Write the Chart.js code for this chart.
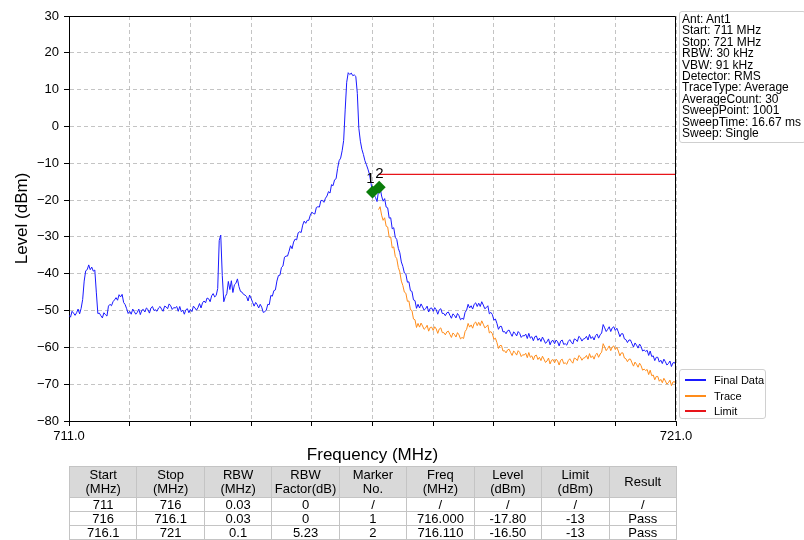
<!DOCTYPE html>
<html>
<head>
<meta charset="utf-8">
<script src="https://cdn.jsdelivr.net/npm/chart.js@4.4.1/dist/chart.umd.min.js"></script>
<style>
  html, body { margin: 0; padding: 0; background: #fff; }
  #wrap { position: relative; width: 804px; height: 540px; overflow: hidden;
          font-family: "Liberation Sans", Arial, sans-serif; color: #000; }
  #plot { position: absolute; left: 0; top: 0; }
  #info { position: absolute; left: 679px; top: 11px; width: 123px; height: 128px;
          border: 1px solid #cfcfcf; border-radius: 3px; padding: 2px 0 0 2px;
          font-size: 12px; line-height: 11.4px; white-space: nowrap; background: #fff; }
  #legend { position: absolute; left: 679px; top: 369px; width: 85px; height: 48px;
            border: 1px solid #d0d0d0; border-radius: 3px; background: #fff; font-size: 11px; }
  #legend .row { position: absolute; left: 0; height: 14px; line-height: 14px; }
  #legend .swatch { position: absolute; left: 5px; top: 6px; width: 21px; height: 2px; }
  #legend .name { position: absolute; left: 34px; top: 0; white-space: nowrap; }
  #result { position: absolute; left: 69px; top: 466px; width: 608px; border-collapse: collapse;
            table-layout: fixed; font-size: 13px; }
  #result th, #result td { border: 1px solid #c4c4c4; text-align: center; padding: 0;
                           font-weight: normal; overflow: hidden; white-space: nowrap; }
  #result th { background: #d9d9d9; height: 30px; line-height: 14px; }
  #result td { height: 13px; line-height: 13px; }
</style>
</head>
<body>
<div id="wrap">
  <canvas id="plot" width="804" height="540"></canvas>
  <div id="info"></div>
  <div id="legend"></div>
  <table id="result"></table>
</div>
<script>
// ---- sweep data (dBm), 0.025 MHz per point from 711 MHz ----
const sweepStartMHz = 711;
const sweepStepMHz = 0.025;
const finalDataDbm = [
  -51.3, -51.8, -50.2, -50.7, -51.3, -50.6, -49.6, -50.9, -49.4, -47.0,
  -42.0, -39.2, -38.9, -37.6, -38.9, -38.2, -39.3, -39.0, -45.0, -50.8,
  -50.7, -51.4, -52.0, -50.6, -51.1, -51.5, -48.8, -48.3, -48.7, -47.6,
  -47.1, -46.5, -47.2, -45.7, -46.3, -45.6, -47.8, -48.4, -49.5, -50.8,
  -50.2, -51.0, -49.6, -50.3, -51.0, -50.5, -49.6, -51.1, -49.9, -49.7,
  -50.4, -49.3, -49.7, -50.7, -49.3, -48.9, -50.0, -49.8, -50.2, -49.3,
  -48.9, -49.6, -50.2, -48.8, -49.0, -49.5, -48.2, -48.7, -49.7, -49.2,
  -49.3, -48.9, -50.2, -48.9, -50.3, -49.9, -51.0, -49.8, -49.5, -50.6,
  -49.7, -50.3, -48.8, -49.3, -49.9, -49.2, -48.1, -49.3, -47.9, -47.4,
  -47.9, -46.6, -46.8, -47.6, -46.0, -45.4, -46.3, -45.9, -44.0, -31.0,
  -29.5, -40.5, -47.6, -46.2, -45.4, -42.1, -44.3, -41.9, -45.1, -43.0,
  -42.6, -41.4, -43.5, -44.8, -45.0, -45.6, -45.8, -46.2, -47.4, -45.8,
  -46.7, -47.8, -48.8, -47.8, -48.4, -49.3, -48.3, -49.1, -50.5, -50.3,
  -49.9, -48.3, -48.4, -45.9, -46.1, -44.6, -44.4, -42.0, -40.5, -40.4,
  -38.3, -37.9, -35.5, -35.2, -35.2, -33.9, -32.4, -33.2, -31.4, -30.6,
  -30.8, -28.9, -28.6, -28.8, -26.8, -25.7, -26.3, -25.5, -25.5, -24.1,
  -23.3, -23.6, -23.8, -22.0, -21.8, -21.9, -20.1, -20.1, -20.6, -19.5,
  -18.9, -17.7, -18.1, -15.8, -16.1, -14.5, -14.2, -11.4, -9.3, -8.6,
  -6.6, -3.8, 4.5, 12.0, 14.6, 14.1, 14.5, 13.8, 14.0, 13.6,
  9.0, -0.5, -4.0, -6.2, -7.6, -9.3, -10.4, -11.6, -13.0, -15.4,
  -17.8, -18.6, -19.3, -20.4, -17.4, -16.6, -18.9, -20.3, -19.6, -21.9,
  -22.1, -24.9, -24.8, -27.8, -27.5, -30.1, -30.7, -33.1, -34.3, -36.8,
  -38.0, -39.8, -40.1, -42.3, -42.2, -44.6, -44.8, -47.1, -47.3, -49.4,
  -48.3, -49.3, -48.2, -49.0, -49.9, -49.5, -48.8, -50.4, -49.4, -49.3,
  -50.2, -49.2, -49.8, -51.0, -49.8, -49.5, -50.8, -50.8, -51.4, -50.6,
  -50.4, -51.3, -52.1, -50.9, -51.3, -52.0, -50.8, -51.4, -52.5, -52.1,
  -52.4, -50.5, -49.9, -48.3, -49.3, -48.7, -49.6, -48.3, -47.9, -48.9,
  -48.0, -48.9, -47.6, -48.5, -49.5, -49.2, -48.7, -50.9, -50.5, -51.1,
  -52.6, -52.3, -53.5, -55.1, -54.3, -54.3, -55.8, -55.7, -56.3, -55.5,
  -55.3, -56.2, -57.0, -55.8, -56.2, -56.9, -55.7, -56.2, -57.3, -56.8,
  -56.9, -56.4, -57.6, -56.2, -57.5, -57.1, -58.2, -57.1, -56.9, -58.1,
  -57.5, -58.4, -57.2, -58.0, -58.9, -58.5, -57.7, -59.3, -58.3, -58.1,
  -59.0, -58.0, -58.5, -59.6, -58.3, -58.0, -59.2, -59.0, -59.4, -58.4,
  -57.9, -58.6, -59.1, -57.7, -57.9, -58.4, -57.0, -57.4, -58.3, -57.7,
  -57.6, -57.0, -58.0, -56.5, -57.6, -57.1, -58.0, -56.8, -56.4, -57.5,
  -56.6, -56.1, -53.8, -54.7, -55.7, -55.1, -54.4, -55.7, -54.7, -54.4,
  -55.4, -54.8, -55.8, -57.1, -56.3, -56.3, -57.7, -57.9, -58.7, -58.0,
  -58.0, -59.0, -59.9, -58.8, -59.4, -60.2, -59.1, -59.8, -61.0, -60.7,
  -61.1, -60.8, -62.2, -61.0, -62.5, -62.3, -63.6, -62.7, -62.7, -64.0,
  -63.5, -64.4, -63.2, -63.9, -64.8, -64.4, -63.7, -65.2, -64.2, -64.1,
  -64.8
];

// raw trace (before RBW factor) for the 716.1 - 721 MHz segment
const traceStartMHz = 716.1;
const traceDbm = [
  -22.6, -21.8, -24.1, -25.5, -24.8, -27.1,
  -27.3, -30.1, -30.0, -33.0, -32.7, -35.3, -35.9, -38.3, -39.5, -42.0,
  -43.2, -45.0, -45.3, -47.5, -47.4, -49.8, -50.0, -52.3, -52.5, -54.6,
  -53.5, -54.5, -53.4, -54.2, -55.1, -54.7, -54.0, -55.6, -54.6, -54.5,
  -55.4, -54.4, -55.0, -56.2, -55.0, -54.7, -56.0, -56.0, -56.6, -55.8,
  -55.6, -56.5, -57.3, -56.1, -56.5, -57.2, -56.0, -56.6, -57.7, -57.3,
  -57.6, -55.7, -55.1, -53.5, -54.5, -53.9, -54.8, -53.5, -53.1, -54.1,
  -53.2, -54.1, -52.8, -53.7, -54.7, -54.4, -53.9, -56.1, -55.7, -56.3,
  -57.8, -57.5, -58.7, -60.3, -59.5, -59.5, -61.0, -60.9, -61.5, -60.7,
  -60.5, -61.4, -62.2, -61.0, -61.4, -62.1, -60.9, -61.4, -62.5, -62.0,
  -62.1, -61.6, -62.8, -61.4, -62.7, -62.3, -63.4, -62.3, -62.1, -63.3,
  -62.7, -63.6, -62.4, -63.2, -64.1, -63.7, -62.9, -64.5, -63.5, -63.3,
  -64.2, -63.2, -63.7, -64.8, -63.5, -63.2, -64.4, -64.2, -64.6, -63.6,
  -63.1, -63.8, -64.3, -62.9, -63.1, -63.6, -62.2, -62.6, -63.5, -62.9,
  -62.8, -62.2, -63.2, -61.7, -62.8, -62.3, -63.2, -62.0, -61.6, -62.7,
  -61.8, -61.3, -59.0, -59.9, -60.9, -60.3, -59.6, -60.9, -59.9, -59.6,
  -60.6, -60.0, -61.0, -62.3, -61.5, -61.5, -62.9, -63.1, -63.9, -63.2,
  -63.2, -64.2, -65.1, -64.0, -64.6, -65.4, -64.3, -65.0, -66.2, -65.9,
  -66.3, -66.0, -67.4, -66.2, -67.7, -67.5, -68.8, -67.9, -67.9, -69.2,
  -68.7, -69.6, -68.4, -69.1, -70.0, -69.6, -68.9, -70.4, -69.4, -69.3,
  -70.0
];

// limit line
const limitFreqMHz = [716.1, 721];
const limitDbm = [-13, -13];

// measurement table
const segStartMHz = ['711', '716', '716.1'];
const segStopMHz = ['716', '716.1', '721'];
const segRbwMHz = ['0.03', '0.03', '0.1'];
const segRbwFactorDb = ['0', '0', '5.23'];
const segMarkerNo = ['/', '1', '2'];
const segMarkerFreq = ['/', '716.000', '716.110'];
const segLevel = ['/', '-17.80', '-16.50'];
const segLimit = ['/', '-13', '-13'];
const segResult = ['/', 'Pass', 'Pass'];
const tableHeaders = ['Start<br>(MHz)', 'Stop<br>(MHz)', 'RBW<br>(MHz)', 'RBW<br>Factor(dB)',
  'Marker<br>No.', 'Freq<br>(MHz)', 'Level<br>(dBm)', 'Limit<br>(dBm)', 'Result'];

// markers
const markerLabels = ['1', '2'];
const markerFreqMHz = [716.000, 716.110];
const markerLevelDbm = [-17.80, -16.50];

// axis ticks
const freqLabelTicks = [711, 721];
const levelMin = -80, levelMax = 30, levelStep = 10;

// settings panel
const infoLines = ['Ant: Ant1', 'Start: 711 MHz', 'Stop: 721 MHz', 'RBW: 30 kHz', 'VBW: 91 kHz',
  'Detector: RMS', 'TraceType: Average', 'AverageCount: 30', 'SweepPoint: 1001',
  'SweepTime: 16.67 ms', 'Sweep: Single'];

const seriesNames = ['Final Data', 'Trace', 'Limit'];
const seriesColors = ['#1a1aff', '#ff8c1a', '#e8141a'];

// ---- build the page ----
document.getElementById('info').innerHTML = infoLines.map(s => '<div>' + s + '</div>').join('');

const legendEl = document.getElementById('legend');
seriesNames.forEach((name, i) => {
  const row = document.createElement('div');
  row.className = 'row';
  row.style.top = (3 + i * 15.5) + 'px';
  row.innerHTML = '<span class="swatch" style="background:' + seriesColors[i] + '"></span>' +
                  '<span class="name">' + name + '</span>';
  legendEl.appendChild(row);
});

const tbl = document.getElementById('result');
let html = '<tr>' + tableHeaders.map(h => '<th>' + h + '</th>').join('') + '</tr>';
for (let r = 0; r < segStartMHz.length; r++) {
  const cells = [segStartMHz[r], segStopMHz[r], segRbwMHz[r], segRbwFactorDb[r], segMarkerNo[r],
    segMarkerFreq[r], segLevel[r], segLimit[r], segResult[r]];
  html += '<tr>' + cells.map(c => '<td>' + c + '</td>').join('') + '</tr>';
}
tbl.innerHTML = html;

const finalPoints = finalDataDbm.map((v, i) => ({ x: sweepStartMHz + i * sweepStepMHz, y: v }));
const tracePoints = traceDbm.map((v, i) => ({ x: traceStartMHz + i * sweepStepMHz, y: v }));
const limitPoints = limitFreqMHz.map((f, i) => ({ x: f, y: limitDbm[i] }));
const markerPoints = markerFreqMHz.map((f, i) => ({ x: f, y: markerLevelDbm[i] }));

// frame on top/right plus marker numbers
const framePlugin = {
  id: 'frameAndMarkers',
  afterDatasetsDraw(chart) {
    const { ctx, chartArea } = chart;
    ctx.save();
    ctx.strokeStyle = '#000';
    ctx.lineWidth = 1;
    const l = Math.round(chartArea.left) + 0.5, r = Math.round(chartArea.right) - 0.5;
    const t = Math.round(chartArea.top) + 0.5, b = Math.round(chartArea.bottom) - 0.5;
    ctx.beginPath();
    ctx.moveTo(l, t); ctx.lineTo(r, t); ctx.lineTo(r, b);
    ctx.stroke();

    const meta = chart.getDatasetMeta(3);
    ctx.fillStyle = '#000';
    ctx.font = '15px "Liberation Sans", Arial, sans-serif';
    ctx.textBaseline = 'bottom';
    meta.data.forEach((pt, i) => {
      ctx.textAlign = i === 0 ? 'right' : 'left';
      const dx = i === 0 ? 2 : -4;
      ctx.fillText(markerLabels[i], pt.x + dx, pt.y - 6);
    });
    ctx.restore();
  }
};

Chart.defaults.font.family = '"Liberation Sans", Arial, sans-serif';
Chart.defaults.color = '#000';

new Chart(document.getElementById('plot'), {
  type: 'line',
  data: {
    datasets: [
      { label: seriesNames[0], data: finalPoints, borderColor: seriesColors[0], borderWidth: 1,
        pointRadius: 0, tension: 0, order: 2 },
      { label: seriesNames[1], data: tracePoints, borderColor: seriesColors[1], borderWidth: 1,
        pointRadius: 0, tension: 0, order: 3 },
      { label: seriesNames[2], data: limitPoints, borderColor: seriesColors[2], borderWidth: 1.2,
        pointRadius: 0, tension: 0, order: 1 },
      { label: 'Markers', data: markerPoints, showLine: false, pointStyle: 'rectRot',
        pointRadius: 6.5, backgroundColor: '#0a7d0a', borderColor: '#0a7d0a', borderWidth: 0,
        order: 0, clip: false }
    ]
  },
  options: {
    responsive: false,
    animation: false,
    events: [],
    layout: { padding: { left: 0, right: 128, top: 16, bottom: 74 } },
    plugins: { legend: { display: false }, tooltip: { enabled: false } },
    scales: {
      x: {
        type: 'linear', min: 711, max: 721,
        afterFit: s => { s.height = 45; },
        ticks: {
          stepSize: 1, autoSkip: false, maxRotation: 0, padding: 3,
          font: { size: 13 }, color: '#000',
          callback: v => freqLabelTicks.includes(v) ? v.toFixed(1) : ''
        },
        grid: { color: '#b5b5b5', lineWidth: 0.8, tickColor: '#000', tickLength: 5, tickWidth: 1 },
        border: { display: true, color: '#000', width: 1, dash: [4, 3] },
        title: { display: true, text: 'Frequency (MHz)', font: { size: 17 }, color: '#000',
                 padding: { top: 0, bottom: 0 } }
      },
      y: {
        min: levelMin, max: levelMax,
        afterFit: s => { s.width = 69; },
        ticks: {
          stepSize: levelStep, padding: 5, font: { size: 13 }, color: '#000',
          callback: v => (v < 0 ? '\u2212' + Math.abs(v) : String(v))
        },
        grid: { color: '#b5b5b5', lineWidth: 0.8, tickColor: '#000', tickLength: 5, tickWidth: 1 },
        border: { display: true, color: '#000', width: 1, dash: [4, 3] },
        title: { display: true, text: 'Level (dBm)', font: { size: 17 }, color: '#000',
                 padding: { top: 12, bottom: 0 } }
      }
    }
  },
  plugins: [framePlugin]
});
</script>
</body>
</html>
